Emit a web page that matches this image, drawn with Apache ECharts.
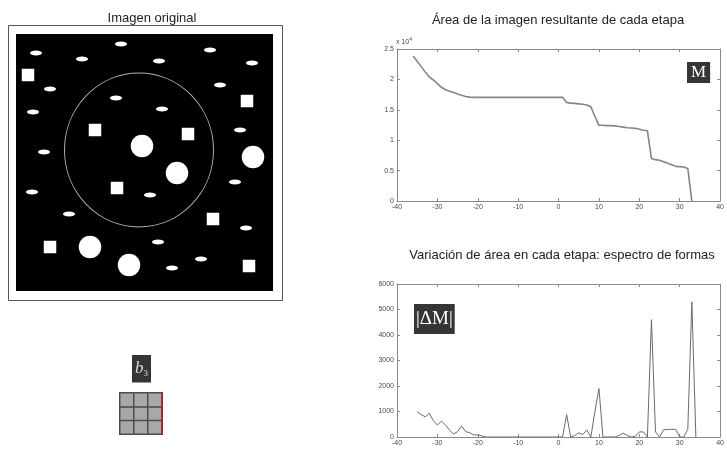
<!DOCTYPE html>
<html>
<head>
<meta charset="utf-8">
<script src="https://cdn.jsdelivr.net/npm/echarts@6/dist/echarts.min.js"></script>
<style>
  html, body { margin: 0; padding: 0; background: #ffffff; }
  #chart { width: 727px; height: 451px; }
</style>
</head>
<body>
<div id="chart"></div>
<script>
// ---- Test image: shape centres in pixel coordinates (x right, y down) ----
const ellipseCenters = [
  [20, 19], [105, 10], [66, 25], [194, 16], [143, 27], [236, 29],
  [34, 55], [204, 51], [100, 64], [17, 78], [146, 75], [224, 96],
  [28, 118], [219, 148], [16, 158], [134, 161], [53, 180], [230, 194],
  [142, 208], [185, 225], [156, 234]
];
const squareCenters = [
  [12, 41], [231, 67], [79, 96], [172, 100], [101, 154], [197, 185], [34, 213], [233, 232]
];
const discCenters = [
  [126, 112], [161, 139], [237, 123], [74, 213], [113, 231]
];
const ringCenter = [[123, 116]];

// ---- Area of the resulting image at each stage ----
const areaSteps = [
  -36, -35, -34, -33, -32, -31, -30, -29, -28, -27, -26, -25, -24, -23, -22, -21,
  -20, -19, -18, -17, -16, -15, -14, -13, -12, -11, -10, -9, -8, -7, -6, -5, -4, -3, -2, -1, 0, 1,
  2, 3, 4, 5, 6, 7, 8, 9, 10, 11, 12, 13, 14, 15, 16, 17, 18, 19, 20, 21, 22,
  23, 24, 25, 26, 27, 28, 29, 30, 31, 32, 33
];
const areaValues = [
  23850, 23000, 22100, 21200, 20400, 19900, 19300, 18700, 18300, 18050, 17850, 17600, 17400, 17200, 17080, 17050,
  17050, 17050, 17050, 17050, 17050, 17050, 17050, 17050, 17050, 17050, 17050, 17050, 17050, 17050, 17050, 17050, 17050, 17050, 17050, 17050, 17050, 17050,
  16200, 16100, 16050, 15980, 15900, 15800, 15500, 13900, 12450, 12450, 12400, 12400, 12350, 12250, 12150, 12050, 12000, 11950, 11800, 11650, 11550,
  7000, 6800, 6700, 6450, 6200, 5950, 5700, 5650, 5600, 5350, 0
];

// ---- Area variation per stage (pattern spectrum) ----
const deltaSteps = [
  -35, -34, -33, -32, -31, -30, -29, -28, -27, -26, -25, -24, -23, -22, -21, -20, -19, -18,
  -17, -16, -15, -14, -13, -12, -11, -10, -9, -8, -7, -6, -5, -4, -3, -2, -1, 0, 1,
  2, 3, 4, 5, 6, 7, 8, 9, 10, 11, 12, 13, 14, 15, 16, 17, 18, 19, 20, 21, 22,
  23, 24, 25, 26, 27, 28, 29, 30, 31, 32, 33, 34
];
const deltaValues = [
  990, 880, 790, 930, 640, 470, 620, 470, 270, 120, 210, 430, 210, 170, 80, 80, 40, 0,
  0, 0, 0, 0, 0, 0, 0, 0, 0, 0, 0, 0, 0, 0, 0, 0, 0, 0, 0,
  880, 0, 60, 160, 100, 280, 0, 1000, 1900, 0, 0, 0, 0, 60, 150, 60, 0, 20, 200, 200, 0,
  4600, 200, 0, 280, 300, 300, 300, 0, 0, 300, 5300, 0
];

// ---- Structuring element b3 (3x3) ----
const kernelCols = ['0', '1', '2'];
const kernelRows = ['0', '1', '2'];
const kernelCells = [
  [0, 0, 1], [1, 0, 1], [2, 0, 1],
  [0, 1, 1], [1, 1, 1], [2, 1, 1],
  [0, 2, 1], [1, 2, 1], [2, 2, 1]
];

// ---- Tick ranges ----
const stepAxis = { min: -40, max: 40, interval: 10 };
const areaAxis = { min: 0, max: 25000, interval: 5000 };
const deltaAxis = { min: 0, max: 6000, interval: 1000 };

const FONT = 'Liberation Sans, Arial, sans-serif';
const SERIF = 'Liberation Serif, Times New Roman, serif';
const AXIS_COLOR = '#8a8a8a';
const LABEL_COLOR = '#4a4a4a';

function plainNumber(v) { return String(v); }

function plotAxis(gridIndex, range, position, showLabels, formatter) {
  return {
    type: 'value',
    gridIndex: gridIndex,
    position: position,
    min: range.min, max: range.max, interval: range.interval,
    axisLine: { show: true, onZero: false, lineStyle: { color: AXIS_COLOR, width: 1 } },
    axisTick: { show: true, inside: true, length: 3, lineStyle: { color: AXIS_COLOR } },
    splitLine: { show: false },
    axisLabel: {
      show: showLabels, margin: 3, fontSize: 7, color: LABEL_COLOR, fontFamily: FONT,
      formatter: formatter || plainNumber
    }
  };
}

function hiddenAxis(gridIndex, min, max, inverse) {
  return {
    type: 'value', gridIndex: gridIndex, min: min, max: max, inverse: !!inverse,
    show: false, axisLine: { show: false }, splitLine: { show: false }
  };
}

const chart = echarts.init(document.getElementById('chart'), null, { renderer: 'canvas' });

const areaFmt = function (v) { return String(v / 10000); };

const option = {
  animation: false,
  backgroundColor: '#ffffff',
  title: [
    { text: 'Imagen original', left: 147, top: 7, textAlign: 'center',
      textStyle: { fontSize: 13, fontWeight: 'normal', color: '#222', fontFamily: FONT } },
    { text: 'Área de la imagen resultante de cada etapa', left: 553, top: 9, textAlign: 'center',
      textStyle: { fontSize: 13, fontWeight: 'normal', color: '#222', fontFamily: FONT } },
    { text: 'Variación de área en cada etapa: espectro de formas', left: 557, top: 244, textAlign: 'center',
      textStyle: { fontSize: 13, fontWeight: 'normal', color: '#222', fontFamily: FONT } },
    { text: 'M', left: 687, top: 62, backgroundColor: '#353535', padding: [2, 4, 1, 4],
      textStyle: { fontSize: 17, fontWeight: 'normal', color: '#ffffff', fontFamily: SERIF, lineHeight: 18 } },
    { text: '|ΔM|', left: 414, top: 304, backgroundColor: '#353535', padding: [4, 2, 3, 2],
      textStyle: { fontSize: 19, fontWeight: 'normal', color: '#ffffff', fontFamily: SERIF, lineHeight: 23 } },
    { text: '{b|b}{s|3}', left: 132, top: 355, backgroundColor: '#353535', padding: [5, 3, 4, 3],
      textStyle: {
        rich: {
          b: { fontSize: 17, fontStyle: 'italic', fontWeight: 'normal', color: '#dddddd', fontFamily: SERIF, lineHeight: 19, verticalAlign: 'top' },
          s: { fontSize: 9, fontWeight: 'normal', color: '#dddddd', fontFamily: SERIF, padding: [9, 0, 0, 0] }
        }
      } }
  ],
  graphic: [
    { type: 'rect', shape: { x: 8.5, y: 25.5, width: 274, height: 275 },
      style: { fill: 'none', stroke: '#555555', lineWidth: 1 }, silent: true }
  ],
  grid: [
    { left: 16, top: 34, width: 257, height: 257, show: true, backgroundColor: '#000000', borderWidth: 0 },
    { left: 397, top: 49, width: 327, height: 152 },
    { left: 397, top: 284, width: 326, height: 153 },
    { left: 120, top: 393, width: 42, height: 41 }
  ],
  xAxis: [
    hiddenAxis(0, 0, 257, false),
    plotAxis(1, stepAxis, 'bottom', true),
    plotAxis(1, stepAxis, 'top', false),
    plotAxis(2, stepAxis, 'bottom', true),
    plotAxis(2, stepAxis, 'top', false),
    { type: 'category', gridIndex: 3, data: kernelCols, show: false }
  ],
  yAxis: [
    hiddenAxis(0, 0, 257, true),
    Object.assign(plotAxis(1, areaAxis, 'left', true, areaFmt), {
      name: '{a|x 10}{e|4}', nameLocation: 'end', nameGap: 2,
      nameTextStyle: { align: 'left', padding: [0, 0, 0, -1],
        rich: { a: { fontSize: 7, color: LABEL_COLOR, fontFamily: FONT },
                e: { fontSize: 5, color: LABEL_COLOR, fontFamily: FONT, padding: [0, 0, 5, 0] } } }
    }),
    plotAxis(1, areaAxis, 'right', false),
    plotAxis(2, deltaAxis, 'left', true),
    plotAxis(2, deltaAxis, 'right', false),
    { type: 'category', gridIndex: 3, data: kernelRows, position: 'right', z: 5,
      axisLine: { show: true, lineStyle: { color: '#b01a1a', width: 1.5 } },
      axisTick: { show: false }, axisLabel: { show: false }, splitLine: { show: false } }
  ],
  series: [
    { type: 'scatter', xAxisIndex: 0, yAxisIndex: 0, data: ellipseCenters, symbol: 'circle',
      symbolSize: [12, 5], itemStyle: { color: '#ffffff', opacity: 1 }, silent: true },
    { type: 'scatter', xAxisIndex: 0, yAxisIndex: 0, data: squareCenters, symbol: 'rect',
      symbolSize: 12.5, itemStyle: { color: '#ffffff', opacity: 1 }, silent: true },
    { type: 'scatter', xAxisIndex: 0, yAxisIndex: 0, data: discCenters, symbol: 'circle',
      symbolSize: 22.5, itemStyle: { color: '#ffffff', opacity: 1 }, silent: true },
    { type: 'scatter', xAxisIndex: 0, yAxisIndex: 0, data: ringCenter, symbol: 'circle',
      symbolSize: [149, 154],
      itemStyle: { color: 'rgba(0,0,0,0)', borderColor: '#b0b0b0', borderWidth: 1, opacity: 1 }, silent: true },
    { type: 'line', xAxisIndex: 1, yAxisIndex: 1,
      data: areaSteps.map(function (s, i) { return [s, areaValues[i]]; }),
      showSymbol: false, symbol: 'none', lineStyle: { color: '#858585', width: 1.6 }, silent: true },
    { type: 'line', xAxisIndex: 3, yAxisIndex: 3,
      data: deltaSteps.map(function (s, i) { return [s, deltaValues[i]]; }),
      showSymbol: false, symbol: 'none', lineStyle: { color: '#6a6a6a', width: 1 }, silent: true },
    { type: 'heatmap', xAxisIndex: 5, yAxisIndex: 5, data: kernelCells, silent: true, z: 1,
      itemStyle: { color: '#a8a8a8', borderColor: '#4d4d4d', borderWidth: 1.5 } }
  ]
};

chart.setOption(option);
</script>
</body>
</html>
